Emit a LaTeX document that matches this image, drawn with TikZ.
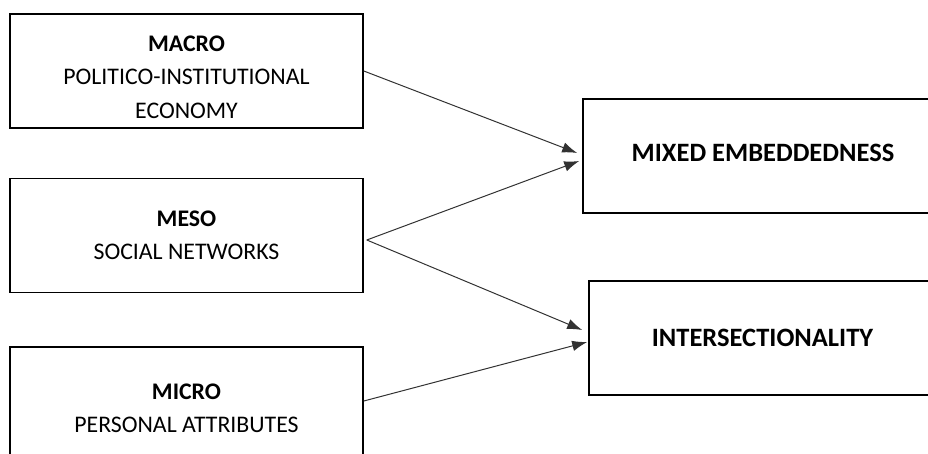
\documentclass[tikz,border=0pt]{standalone}
\usepackage{fontspec}
\setmainfont{Carlito}
\usetikzlibrary{arrows.meta}
\definecolor{lvlink}{RGB}{50,50,50}

\begin{document}
\begin{tikzpicture}[x=1pt,y=-1pt,
  lvlbox/.style={draw,line width=1.6pt,minimum width=353pt,minimum height=114pt,
    align=center,inner sep=0pt,font=\fontsize{23.8}{33.5}\selectfont},
  outbox/.style={draw,line width=1.6pt,minimum height=114pt,inner sep=0pt,
    font=\fontsize{26.5}{30}\selectfont\bfseries},
  link/.style={lvlink,line width=1pt,-{Latex[length=15pt,width=10.5pt]}}]
  \useasboundingbox (0,0) rectangle (928,454);
  \clip (0,0) rectangle (928,454);
  % levels
  \node[lvlbox,text height=95pt] (macro) at (186.5,71) {\textbf{MACRO}\\POLITICO-INSTITUTIONAL\\ECONOMY};
  \node[lvlbox] (meso) at (186.5,235.5) {\textbf{MESO}\\SOCIAL NETWORKS};
  \node[lvlbox,minimum height=123pt] (micro) at (186.5,408.5) {\textbf{MICRO}\\PERSONAL ATTRIBUTES};
  % outcomes
  \node[outbox,minimum width=360pt,text depth=6pt] (mixed) at (763,156) {MIXED EMBEDDEDNESS};
  \node[outbox,minimum width=347pt] (inter) at (762.5,338) {INTERSECTIONALITY};
  \coordinate (fork) at ([xshift=3pt,yshift=-4.5pt]meso.east);
  \draw[link] (macro.east) -- ([xshift=-5pt,yshift=3pt]mixed.west);
  \draw[link] (fork) -- ([xshift=-3pt,yshift=-5pt]mixed.west);
  \draw[link] (fork) -- ([xshift=-6pt,yshift=8pt]inter.west);
  \draw[link] ([yshift=7.5pt]micro.east) -- ([xshift=-1pt,yshift=-4pt]inter.west);
\end{tikzpicture}
\end{document}
